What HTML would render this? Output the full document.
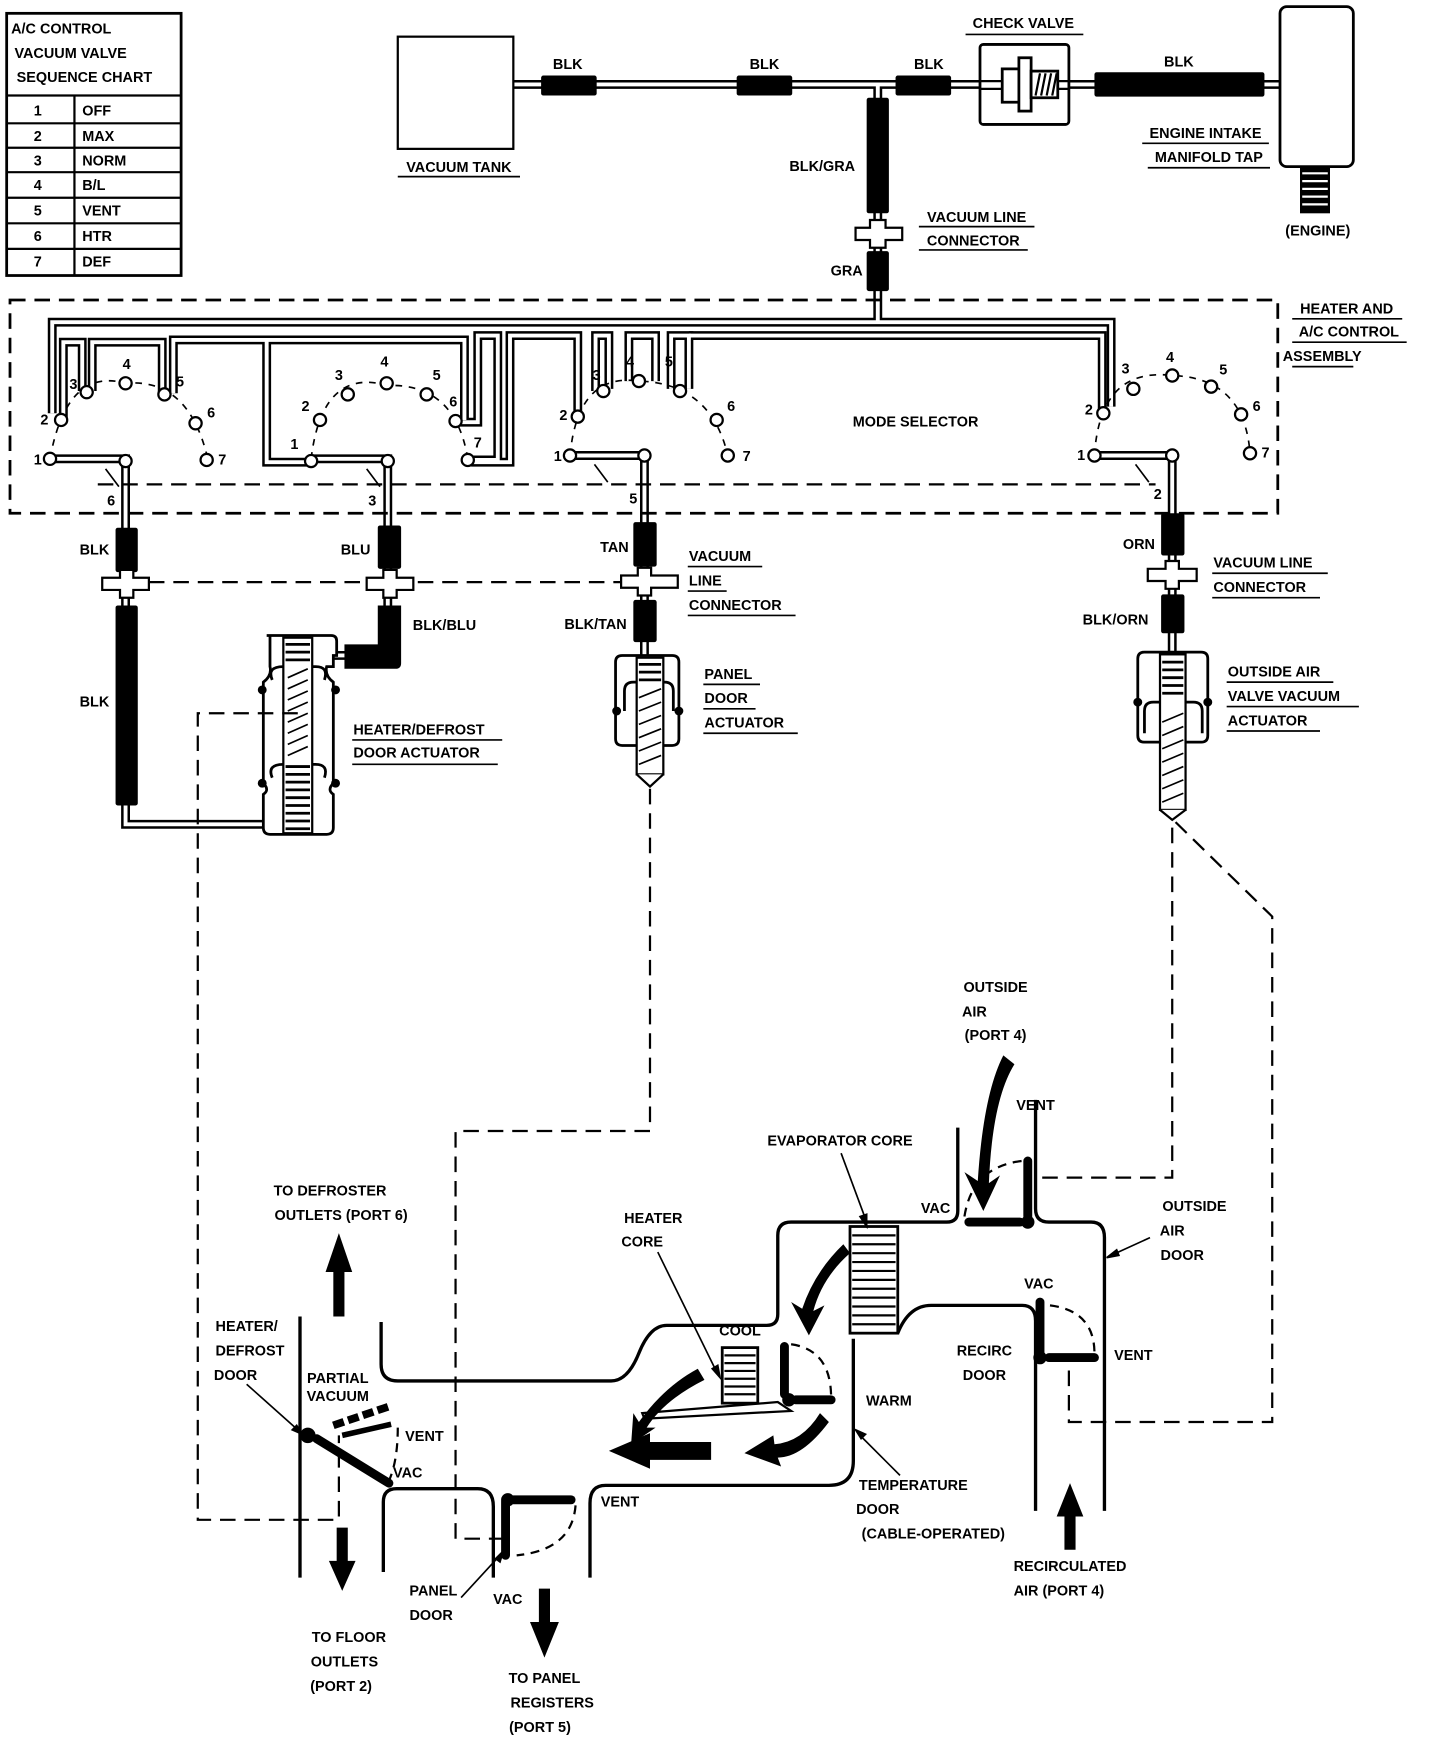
<!DOCTYPE html>
<html><head><meta charset="utf-8"><style>
html,body{margin:0;padding:0;background:#fff;}
svg{display:block;}
text{font-family:"Liberation Sans",sans-serif;font-weight:bold;font-size:13px;fill:#000;text-anchor:middle;}
.l{text-anchor:start;}
</style></head><body>
<svg width="1440" height="1752" viewBox="0 0 1296 1577" preserveAspectRatio="none" xmlns="http://www.w3.org/2000/svg">
<defs>
<g id="tubes" fill="none">
<path d="M462,76 H1152"/>
<path d="M790,76 V290"/>
<path d="M47,372 V290 H1000 V366"/>
<path d="M57,376 V308 H74 V352"/>
<path d="M83,352 V308 H146 V354"/>
<path d="M156,354 V306 H418 V378"/>
<path d="M240,306 V416 H280"/>
<path d="M410,380 H430 V302 H448 V414 H424"/>
<path d="M424,416 H459 V302 H520 V372"/>
<path d="M536,352 V302 H548 V350"/>
<path d="M566,343 V302 H590 V343"/>
<path d="M604,350 V302 H620 V350"/>
<path d="M620,302 H992 V368"/>
<path d="M45,413 H113 V742 H237"/>
<path d="M280,413 H349 V590 H300"/>
<path d="M513,410 H580 V590"/>
<path d="M985,410 H1055 V588"/>
</g>
</defs>

<!-- chart -->
<rect x="6" y="12" width="157" height="236" fill="none" stroke="#000" stroke-width="2.5"/>
<text x="10" y="30" class="l">A/C CONTROL</text>
<text x="13" y="52" class="l">VACUUM VALVE</text>
<text x="15" y="74" class="l">SEQUENCE CHART</text>
<g stroke="#000" stroke-width="2">
<line x1="6" y1="86" x2="163" y2="86"/><line x1="6" y1="111" x2="163" y2="111"/>
<line x1="6" y1="133" x2="163" y2="133"/><line x1="6" y1="155" x2="163" y2="155"/>
<line x1="6" y1="178" x2="163" y2="178"/><line x1="6" y1="201" x2="163" y2="201"/>
<line x1="6" y1="224" x2="163" y2="224"/><line x1="67" y1="86" x2="67" y2="248"/>
</g>
<g>
<text x="34" y="104">1</text><text x="74" y="104" class="l">OFF</text>
<text x="34" y="127">2</text><text x="74" y="127" class="l">MAX</text>
<text x="34" y="149">3</text><text x="74" y="149" class="l">NORM</text>
<text x="34" y="171">4</text><text x="74" y="171" class="l">B/L</text>
<text x="34" y="194">5</text><text x="74" y="194" class="l">VENT</text>
<text x="34" y="217">6</text><text x="74" y="217" class="l">HTR</text>
<text x="34" y="240">7</text><text x="74" y="240" class="l">DEF</text>
</g>

<!-- tubes -->
<use href="#tubes" stroke="#000" stroke-width="8"/>
<use href="#tubes" stroke="#fff" stroke-width="3.5"/>

<!-- vacuum tank -->
<rect x="358" y="33" width="104" height="101" fill="#fff" stroke="#000" stroke-width="2"/>
<text x="413" y="155">VACUUM TANK</text><line x1="358" y1="159" x2="468" y2="159" stroke="#000" stroke-width="1.5"/>
<!-- hoses top -->
<g fill="#000">
<rect x="487" y="68" width="50" height="18" rx="2"/>
<rect x="663" y="68" width="50" height="18" rx="2"/>
<rect x="806" y="68" width="50" height="18" rx="2"/>
<rect x="985" y="65" width="153" height="22" rx="2"/>
<rect x="780" y="88" width="20" height="104" rx="2"/>
<rect x="780" y="226" width="20" height="36" rx="2"/>
</g>
<text x="511" y="62">BLK</text><text x="688" y="62">BLK</text><text x="836" y="62">BLK</text><text x="1061" y="60">BLK</text>
<text x="740" y="154">BLK/GRA</text><text x="762" y="248">GRA</text>
<!-- connector top -->
<path d="M770,205 H783 V198 H797 V205 H812 V216 H797 V223 H783 V216 H770 Z" fill="#fff" stroke="#000" stroke-width="2"/>
<text x="879" y="200">VACUUM LINE</text><text x="876" y="221">CONNECTOR</text>
<line x1="827" y1="204" x2="931" y2="204" stroke="#000" stroke-width="1.5"/><line x1="827" y1="225" x2="925" y2="225" stroke="#000" stroke-width="1.5"/>
<!-- check valve -->
<rect x="882" y="40" width="80" height="72" fill="#fff" stroke="#000" stroke-width="2.5" rx="3"/>
<line x1="882" y1="73" x2="962" y2="73" stroke="#000" stroke-width="2"/>
<line x1="882" y1="80" x2="962" y2="80" stroke="#000" stroke-width="2"/>
<rect x="902" y="62" width="22" height="30" fill="#fff" stroke="#000" stroke-width="2.5"/>
<rect x="917" y="52" width="11" height="48" fill="#fff" stroke="#000" stroke-width="2.5"/>
<rect x="928" y="64" width="24" height="24" fill="#fff" stroke="#000" stroke-width="2.5"/>
<path d="M932,86 l4,-20 M937,86 l4,-20 M942,86 l4,-20 M947,86 l4,-20" stroke="#000" stroke-width="2"/>
<text x="921" y="25">CHECK VALVE</text><line x1="869" y1="31" x2="975" y2="31" stroke="#000" stroke-width="1.5"/>
<!-- engine -->
<rect x="1152" y="6" width="66" height="144" rx="6" fill="#fff" stroke="#000" stroke-width="2.5"/>
<rect x="1170" y="150" width="27" height="42" fill="#000"/>
<path d="M1172,156 h23 M1172,163 h23 M1172,170 h23 M1172,177 h23 M1172,184 h23" stroke="#fff" stroke-width="2"/>
<text x="1085" y="124">ENGINE INTAKE</text><line x1="1028" y1="129" x2="1142" y2="129" stroke="#000" stroke-width="1.5"/>
<text x="1088" y="146">MANIFOLD TAP</text><line x1="1033" y1="151" x2="1143" y2="151" stroke="#000" stroke-width="1.5"/>
<text x="1186" y="212">(ENGINE)</text>

<!-- assembly dashed box -->
<g fill="none" stroke="#000" stroke-width="2.5" stroke-dasharray="14,8">
<rect x="9" y="270" width="1141" height="192"/>
<path d="M88,436 H1040" stroke-width="2"/>
<path d="M134,524 H560" stroke-width="2"/>
</g>
<text x="1212" y="282">HEATER AND</text><text x="1214" y="303">A/C CONTROL</text><text x="1190" y="325">ASSEMBLY</text>
<line x1="1163" y1="287" x2="1262" y2="287" stroke="#000" stroke-width="1.5"/>
<line x1="1163" y1="308" x2="1266" y2="308" stroke="#000" stroke-width="1.5"/>
<line x1="1163" y1="330" x2="1218" y2="330" stroke="#000" stroke-width="1.5"/>
<text x="824" y="384">MODE SELECTOR</text>

<!-- port arcs -->
<g fill="none" stroke="#000" stroke-width="1.5" stroke-dasharray="6,6">
<path d="M45,413 Q60,330 113,345 Q170,340 187,413"/>
<path d="M280,413 Q290,330 349,347 Q410,345 421,413"/>
<path d="M513,410 Q520,335 575,343 Q640,345 655,410"/>
<path d="M985,410 Q990,330 1055,338 Q1120,340 1125,408"/>
</g>
<g stroke="#000" stroke-width="1.5">
<path d="M95,422 l12,16 M330,422 l12,16 M535,418 l12,16 M1022,418 l12,16"/>
</g>
<g fill="#fff" stroke="#000" stroke-width="2">
<circle cx="45" cy="413" r="5.5"/><circle cx="55" cy="378" r="5.5"/><circle cx="78" cy="353" r="5.5"/><circle cx="113" cy="345" r="5.5"/><circle cx="148" cy="355" r="5.5"/><circle cx="176" cy="381" r="5.5"/><circle cx="186" cy="414" r="5.5"/><circle cx="113" cy="415" r="5.5"/>
<circle cx="280" cy="415" r="5.5"/><circle cx="288" cy="378" r="5.5"/><circle cx="313" cy="355" r="5.5"/><circle cx="348" cy="345" r="5.5"/><circle cx="384" cy="355" r="5.5"/><circle cx="410" cy="379" r="5.5"/><circle cx="421" cy="414" r="5.5"/><circle cx="349" cy="415" r="5.5"/>
<circle cx="513" cy="410" r="5.5"/><circle cx="520" cy="375" r="5.5"/><circle cx="543" cy="352" r="5.5"/><circle cx="575" cy="343" r="5.5"/><circle cx="612" cy="352" r="5.5"/><circle cx="645" cy="378" r="5.5"/><circle cx="655" cy="410" r="5.5"/><circle cx="580" cy="410" r="5.5"/>
<circle cx="985" cy="410" r="5.5"/><circle cx="993" cy="372" r="5.5"/><circle cx="1020" cy="350" r="5.5"/><circle cx="1055" cy="338" r="5.5"/><circle cx="1090" cy="348" r="5.5"/><circle cx="1117" cy="373" r="5.5"/><circle cx="1125" cy="408" r="5.5"/><circle cx="1055" cy="410" r="5.5"/>
</g>
<g>
<text x="34" y="418">1</text><text x="40" y="382">2</text><text x="66" y="350">3</text><text x="114" y="332">4</text><text x="162" y="348">5</text><text x="190" y="376">6</text><text x="200" y="418">7</text>
<text x="265" y="404">1</text><text x="275" y="370">2</text><text x="305" y="342">3</text><text x="346" y="330">4</text><text x="393" y="342">5</text><text x="408" y="366">6</text><text x="430" y="403">7</text>
<text x="502" y="415">1</text><text x="507" y="378">2</text><text x="537" y="342">3</text><text x="567" y="330">4</text><text x="602" y="330">5</text><text x="658" y="370">6</text><text x="672" y="415">7</text>
<text x="973" y="414">1</text><text x="980" y="373">2</text><text x="1013" y="336">3</text><text x="1053" y="326">4</text><text x="1101" y="337">5</text><text x="1131" y="370">6</text><text x="1139" y="412">7</text>
<text x="100" y="455">6</text><text x="335" y="455">3</text><text x="570" y="453">5</text><text x="1042" y="449">2</text>
</g>

<!-- column hoses -->
<g fill="#000">
<rect x="104" y="475" width="20" height="40" rx="2"/><rect x="104" y="545" width="20" height="180" rx="2"/>
<rect x="340" y="473" width="21" height="39" rx="2"/><path d="M340,545 h21 v52 q0,5 -5,5 h-46 v-22 h30 z"/>
<rect x="570" y="470" width="21" height="40" rx="2"/><rect x="570" y="540" width="21" height="38" rx="2"/>
<rect x="1045" y="462" width="21" height="38" rx="2"/><rect x="1045" y="535" width="21" height="35" rx="2"/>
</g>
<g fill="#fff" stroke="#000" stroke-width="2">
<path d="M92,520 H108 V513 H120 V520 H134 V531 H120 V538 H108 V531 H92 Z"/>
<path d="M330,520 H345 V513 H357 V520 H372 V531 H357 V538 H345 V531 H330 Z"/>
<path d="M559,518 H574 V511 H586 V518 H610 V529 H586 V536 H574 V529 H559 Z"/>
<path d="M1033,512 H1049 V505 H1061 V512 H1077 V523 H1061 V530 H1049 V523 H1033 Z"/>
</g>
<text x="85" y="499">BLK</text><text x="85" y="636">BLK</text><text x="320" y="499">BLU</text><text x="400" y="567">BLK/BLU</text>
<text x="553" y="497">TAN</text><text x="536" y="566">BLK/TAN</text><text x="1025" y="494">ORN</text><text x="1004" y="562">BLK/ORN</text>
<text x="620" y="505" class="l">VACUUM</text><text x="620" y="527" class="l">LINE</text><text x="620" y="549" class="l">CONNECTOR</text>
<g stroke="#000" stroke-width="1.5"><line x1="619" y1="510" x2="686" y2="510"/><line x1="619" y1="532" x2="654" y2="532"/><line x1="619" y1="554" x2="716" y2="554"/></g>
<text x="1092" y="511" class="l">VACUUM LINE</text><text x="1092" y="533" class="l">CONNECTOR</text>
<g stroke="#000" stroke-width="1.5"><line x1="1091" y1="516" x2="1195" y2="516"/><line x1="1091" y1="538" x2="1188" y2="538"/></g>

<!-- heater defrost actuator -->
<g stroke="#000" stroke-width="2.5" fill="#fff">
<path d="M240,572 H298 q5,0 5,5 V590 H300 V600 H294 q-2,8 6,14 V705 q-6,6 0,10 V745 q0,6 -6,6 H243 q-6,0 -6,-6 V715 q6,-4 0,-10 V614 q8,-6 6,-14 V577 q0,-5 0,-5 Z"/>
<path d="M245,612 q-5,-12 10,-12 H284 q12,0 8,12"/>
<path d="M245,700 q-5,-12 10,-12 H284 q12,0 8,12"/>
</g>
<rect x="255" y="574" width="26" height="176" fill="#fff" stroke="#000" stroke-width="2"/>
<g stroke="#000" stroke-width="2.5">
<path d="M257,580 h22 M257,587 h22 M257,594 h22 M257,690 h22 M257,697 h22 M257,704 h22 M257,711 h22 M257,718 h22 M257,725 h22 M257,732 h22 M257,739 h22 M257,746 h22"/>
</g>
<g stroke="#000" stroke-width="1.5"><path d="M259,610 l18,-8 M259,620 l18,-8 M259,630 l18,-8 M259,640 l18,-8 M259,650 l18,-8 M259,660 l18,-8 M259,670 l18,-8 M259,680 l18,-8"/></g>
<g fill="#000"><circle cx="236" cy="621" r="4"/><circle cx="302" cy="621" r="4"/><circle cx="236" cy="705" r="4"/><circle cx="302" cy="705" r="4"/></g>
<text x="318" y="661" class="l">HEATER/DEFROST</text><text x="318" y="682" class="l">DOOR ACTUATOR</text>
<g stroke="#000" stroke-width="1.5"><line x1="317" y1="666" x2="452" y2="666"/><line x1="317" y1="688" x2="448" y2="688"/></g>

<!-- panel door actuator -->
<g stroke="#000" stroke-width="2.5" fill="#fff">
<path d="M560,590 H605 q6,0 6,6 V665 q0,6 -6,6 H560 q-6,0 -6,-6 V596 q0,-6 6,-6 Z"/>
<path d="M562,640 V622 q0,-8 8,-8 H598 q8,0 8,8 V640"/>
</g>
<rect x="573" y="592" width="24" height="105" fill="#fff" stroke="#000" stroke-width="2"/>
<path d="M575,598 h20 M575,605 h20 M575,612 h20" stroke="#000" stroke-width="2.5"/>
<g stroke="#000" stroke-width="1.5"><path d="M575,628 l20,-8 M575,640 l20,-8 M575,652 l20,-8 M575,664 l20,-8 M575,676 l20,-8 M575,688 l20,-8"/></g>
<path d="M573,697 L585,708 L597,697" fill="#fff" stroke="#000" stroke-width="2"/>
<g fill="#000"><circle cx="555" cy="640" r="4"/><circle cx="611" cy="640" r="4"/></g>
<text x="634" y="611" class="l">PANEL</text><text x="634" y="633" class="l">DOOR</text><text x="634" y="655" class="l">ACTUATOR</text>
<g stroke="#000" stroke-width="1.5"><line x1="633" y1="616" x2="684" y2="616"/><line x1="633" y1="638" x2="680" y2="638"/><line x1="633" y1="660" x2="718" y2="660"/></g>

<!-- outside air actuator -->
<g stroke="#000" stroke-width="2.5" fill="#fff">
<path d="M1030,587 H1081 q6,0 6,6 V662 q0,6 -6,6 H1030 q-6,0 -6,-6 V593 q0,-6 6,-6 Z"/>
<path d="M1030,660 V640 q0,-8 8,-8 H1074 q8,0 8,8 V660"/>
</g>
<rect x="1044" y="589" width="23" height="140" fill="#fff" stroke="#000" stroke-width="2"/>
<path d="M1046,596 h19 M1046,603 h19 M1046,610 h19 M1046,617 h19 M1046,624 h19" stroke="#000" stroke-width="2.5"/>
<g stroke="#000" stroke-width="1.5"><path d="M1046,650 l19,-8 M1046,662 l19,-8 M1046,674 l19,-8 M1046,686 l19,-8 M1046,698 l19,-8 M1046,710 l19,-8 M1046,722 l19,-8"/></g>
<path d="M1044,729 L1055,738 L1067,729" fill="#fff" stroke="#000" stroke-width="2"/>
<g fill="#000"><circle cx="1024" cy="632" r="4"/><circle cx="1087" cy="632" r="4"/></g>
<text x="1105" y="609" class="l">OUTSIDE AIR</text><text x="1105" y="631" class="l">VALVE VACUUM</text><text x="1105" y="653" class="l">ACTUATOR</text>
<g stroke="#000" stroke-width="1.5"><line x1="1104" y1="614" x2="1200" y2="614"/><line x1="1104" y1="636" x2="1223" y2="636"/><line x1="1104" y1="658" x2="1188" y2="658"/></g>

<!-- dashed linkages -->
<g fill="none" stroke="#000" stroke-width="2" stroke-dasharray="14,8">
<path d="M268,642 H178 V1368 H305 V1292"/>
<path d="M585,710 V1018 H410 V1385 H452"/>
<path d="M1058,740 L1145,825 V1280 H962 V1230"/>
<path d="M1055,745 V1060 H935"/>
</g>

<!-- air box walls -->
<g fill="none" stroke="#000" stroke-width="3">
<path d="M862,1015 V1090 q0,10 -10,10 H712 q-12,0 -12,12 V1183 q0,10 -10,10 H600 q-15,0 -25,25 q-10,25 -25,25 H358 q-15,0 -15,-15 V1190"/>
<path d="M932,990 V1088 q0,12 12,12 H982 q12,0 12,14 V1360"/>
<path d="M808,1200 q10,-25 30,-25 H920 q12,0 12,14 V1360"/>
<path d="M768,1205 V1315 q0,22 -22,22 H545 q-14,0 -14,16 V1420"/>
<path d="M345,1415 V1352 q0,-12 12,-12 H430 q14,0 14,16 V1420"/>
<path d="M270,1185 V1420"/>
</g>
<!-- evaporator core -->
<rect x="765" y="1104" width="43" height="96" fill="#fff" stroke="#000" stroke-width="2.5"/>
<path d="M767,1112 h39 M767,1120 h39 M767,1128 h39 M767,1136 h39 M767,1144 h39 M767,1152 h39 M767,1160 h39 M767,1168 h39 M767,1176 h39 M767,1184 h39 M767,1192 h39" stroke="#000" stroke-width="2"/>
<!-- heater core -->
<rect x="650" y="1213" width="32" height="50" fill="#fff" stroke="#000" stroke-width="2.5"/>
<path d="M652,1220 h28 M652,1227 h28 M652,1234 h28 M652,1241 h28 M652,1248 h28 M652,1255 h28" stroke="#000" stroke-width="2"/>

<!-- doors -->
<g stroke="#000" stroke-width="8" stroke-linecap="round" fill="none">
<path d="M925,1045 V1095"/><path d="M872,1100 H918"/>
<path d="M936,1172 V1222"/><path d="M944,1222 H985"/>
<path d="M706,1212 V1255"/><path d="M716,1260 H748"/>
<path d="M455,1352 V1400"/><path d="M462,1350 H514"/>
<path d="M285,1295 L350,1335"/>
</g>
<path d="M300,1283 L350,1266" stroke="#000" stroke-width="7" stroke-dasharray="10,4" fill="none"/>
<path d="M308,1292 L352,1282" stroke="#000" stroke-width="5" fill="none"/>
<g fill="#000"><circle cx="925" cy="1100" r="6"/><circle cx="936" cy="1222" r="6"/><circle cx="710" cy="1260" r="6"/><circle cx="457" cy="1350" r="6"/><circle cx="277" cy="1292" r="7"/></g>
<g fill="none" stroke="#000" stroke-width="2" stroke-dasharray="8,6">
<path d="M868,1095 Q875,1050 920,1045"/>
<path d="M945,1175 Q985,1180 985,1218"/>
<path d="M712,1210 Q748,1215 748,1258"/>
<path d="M518,1355 Q515,1395 465,1400"/>
<path d="M358,1285 Q358,1315 350,1333"/>
</g>
<path d="M578,1272 L700,1262 L712,1270 L580,1277 Z" fill="none" stroke="#000" stroke-width="2"/>

<!-- arrows -->
<g fill="#000">
<path d="M300,1185 V1145 H293 L305,1110 L317,1145 H310 V1185 Z"/>
<path d="M303,1375 V1405 H296 L308,1432 L320,1405 H313 V1375 Z"/>
<path d="M485,1430 V1460 H477 L490,1492 L503,1460 H495 V1430 Z"/>
<path d="M958,1395 V1365 H951 L963,1335 L975,1365 H968 V1395 Z"/>
<path d="M640,1298 V1314 H585 V1322 L548,1306 L585,1290 V1298 Z"/>
<path d="M903,950 L913,958 Q893,990 890,1065 L900,1058 L885,1090 L868,1055 L880,1063 Q885,985 903,950 Z"/>
<path d="M759,1120 L765,1128 Q740,1150 732,1180 L742,1175 L728,1202 L712,1172 L722,1178 Q733,1145 759,1120 Z"/>
<path d="M628,1232 L634,1242 Q598,1260 582,1285 L590,1285 L568,1300 L570,1272 L575,1280 Q598,1248 628,1232 Z"/>
<path d="M738,1272 L746,1280 Q722,1312 700,1312 L703,1320 L670,1308 L696,1292 L697,1300 Q722,1298 738,1272 Z"/>
</g>
<g stroke="#000" stroke-width="1.5" fill="#000">
<path d="M757,1038 L780,1100" fill="none"/><path d="M780,1104 l-6,-9 l6,-2 z"/>
<path d="M592,1127 L645,1235" fill="none"/><path d="M648,1240 l-7,-8 l5,-3 z"/>
<path d="M1035,1114 L1000,1130" fill="none"/><path d="M996,1132 l9,-7 l2,5 z"/>
<path d="M222,1246 L268,1287" fill="none"/><path d="M272,1291 l-9,-4 l4,-4 z"/>
<path d="M772,1290 L810,1328" fill="none"/><path d="M770,1287 l9,4 l-4,4 z"/>
<path d="M415,1438 L450,1400" fill="none"/><path d="M453,1396 l-3,10 l-4,-3 z"/>
</g>

<!-- bottom labels -->
<text x="896" y="893">OUTSIDE</text><text x="877" y="915">AIR</text><text x="896" y="936">(PORT 4)</text>
<text x="932" y="999">VENT</text><text x="756" y="1031">EVAPORATOR CORE</text><text x="842" y="1092">VAC</text>
<text x="1075" y="1090">OUTSIDE</text><text x="1055" y="1112">AIR</text><text x="1064" y="1134">DOOR</text>
<text x="935" y="1160">VAC</text><text x="588" y="1101">HEATER</text><text x="578" y="1122">CORE</text>
<text x="666" y="1202">COOL</text><text x="886" y="1220">RECIRC</text><text x="886" y="1242">DOOR</text>
<text x="1020" y="1224">VENT</text><text x="800" y="1265">WARM</text>
<text x="297" y="1076">TO DEFROSTER</text><text x="307" y="1098">OUTLETS (PORT 6)</text>
<text x="222" y="1198">HEATER/</text><text x="225" y="1220">DEFROST</text><text x="212" y="1242">DOOR</text>
<text x="304" y="1245">PARTIAL</text><text x="304" y="1261">VACUUM</text>
<text x="382" y="1297">VENT</text><text x="367" y="1330">VAC</text><text x="558" y="1356">VENT</text>
<text x="822" y="1341">TEMPERATURE</text><text x="790" y="1363">DOOR</text><text x="840" y="1385">(CABLE-OPERATED)</text>
<text x="963" y="1414">RECIRCULATED</text><text x="953" y="1436">AIR (PORT 4)</text>
<text x="390" y="1436">PANEL</text><text x="388" y="1458">DOOR</text><text x="457" y="1444">VAC</text>
<text x="314" y="1478">TO FLOOR</text><text x="310" y="1500">OUTLETS</text><text x="307" y="1522">(PORT 2)</text>
<text x="490" y="1515">TO PANEL</text><text x="497" y="1537">REGISTERS</text><text x="486" y="1559">(PORT 5)</text>
</svg>
</body></html>
